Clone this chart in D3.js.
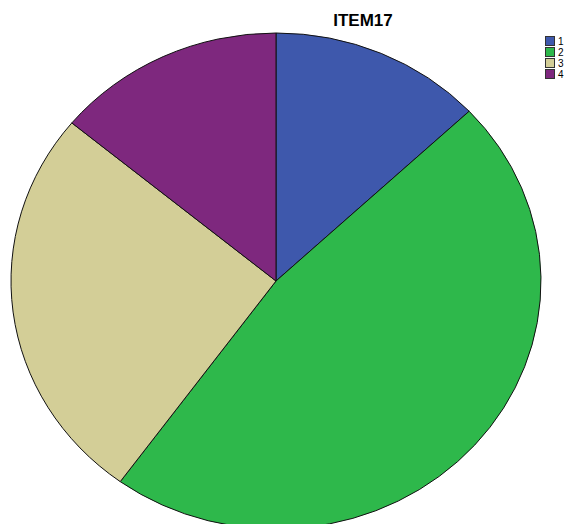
<!DOCTYPE html>
<html>
<head>
<meta charset="utf-8">
<script src="https://cdn.jsdelivr.net/npm/d3@7"></script>
<style>
  body { margin: 0; background: #fff; }
  svg { display: block; }
</style>
</head>
<body>
<div id="chart"></div>
<script>
// data (percent of answers)
let categories = ["1", "2", "3", "4"]
let values = [13, 47, 26, 14]
let colors = ["#3e58ac", "#2eb84b", "#d3ce97", "#7e287e"]

let svg = d3.select("#chart")
    .append("svg")
    .attr("width", 566)
    .attr("height", 524)

// pie is slightly stretched sideways, like the original
let rx = 265
let ry = 248
let cx = 276
let cy = 281

let pie = d3.pie().sort(null).value(d => d)
let arc = d3.arc().innerRadius(0).outerRadius(rx)

let g = svg.append("g")
    .attr("transform", `translate(${cx},${cy}) scale(1,${ry / rx})`)

g.selectAll("path")
    .data(pie(values))
    .enter()
    .append("path")
    .attr("d", arc)
    .attr("fill", (d, i) => colors[i])
    .attr("stroke", "#111")
    .attr("stroke-width", 1)
    .attr("vector-effect", "non-scaling-stroke")

// title
svg.append("text")
    .attr("x", 363)
    .attr("y", 26)
    .attr("text-anchor", "middle")
    .attr("font-family", "Liberation Sans, Arial, sans-serif")
    .attr("font-weight", "bold")
    .attr("font-size", 17)
    .text("ITEM17")

// legend
let legend = svg.append("g").attr("transform", "translate(545,36)")
let items = legend.selectAll("g")
    .data(categories)
    .enter()
    .append("g")
    .attr("transform", (d, i) => `translate(0,${i * 11})`)
items.append("rect")
    .attr("x", 0.5)
    .attr("y", 0.5)
    .attr("width", 9)
    .attr("height", 9)
    .attr("fill", (d, i) => colors[i])
    .attr("stroke", "#333")
items.append("text")
    .attr("x", 13)
    .attr("y", 9)
    .attr("font-family", "Liberation Sans, Arial, sans-serif")
    .attr("font-size", 10)
    .text(d => d)
</script>
</body>
</html>
